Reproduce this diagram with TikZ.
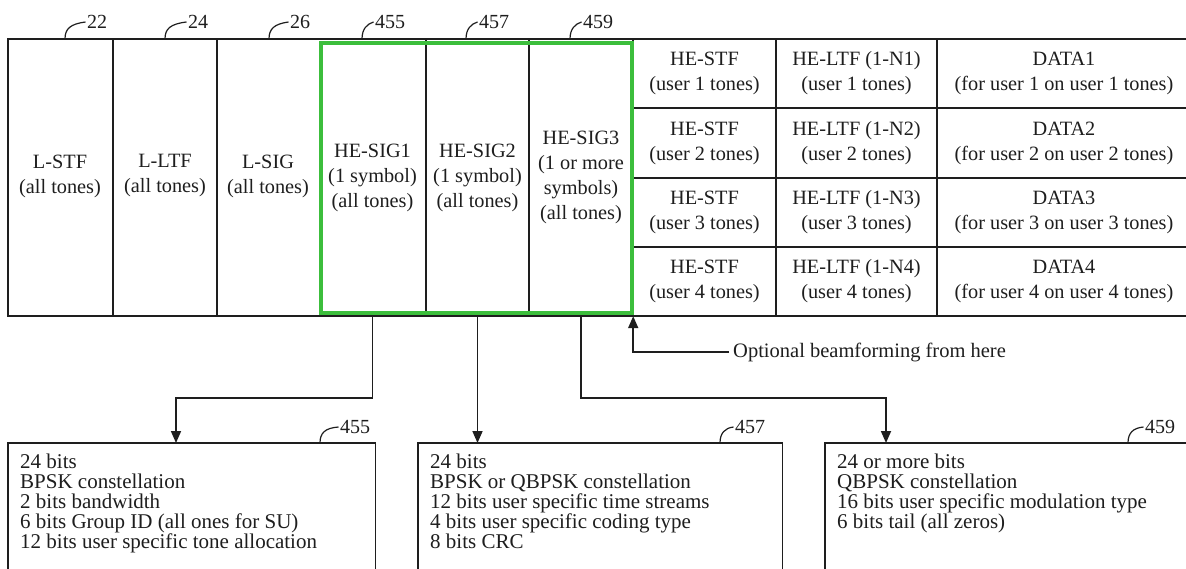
\documentclass[tikz,border=0pt]{standalone}
\usepackage{fontspec}
\setmainfont{Liberation Serif}
\usetikzlibrary{arrows.meta,calc}
\definecolor{ink}{HTML}{1E1E1E}
\definecolor{sigGreen}{HTML}{3CBE3C}
\begin{document}
\begin{tikzpicture}[x=1pt,y=-1pt,
  frameline/.style={draw=ink,line width=1.8pt},
  hookline/.style={draw=ink,line width=1.2pt},
  arr/.style={draw=ink,line width=1.7pt,-{Triangle[length=12pt,width=10pt]}},
  celltext/.style={text=ink,align=center,inner sep=0pt,font=\fontsize{20.3}{25}\selectfont},
  sigcell/.style={celltext,minimum width=#1,minimum height=277pt},
  boxarea/.style={inner sep=0pt,minimum height=126pt,anchor=north west},
  boxtext/.style={text=ink,align=left,inner sep=0pt,anchor=north west,font=\fontsize{21}{20}\selectfont},
  reflab/.style={text=ink,inner sep=1.5pt,anchor=west,font=\fontsize{20}{20}\selectfont},
  beamtext/.style={text=ink,inner sep=4pt,anchor=west,font=\fontsize{20.5}{24}\selectfont}]
\useasboundingbox (0,0) rectangle (1186,569);
\fill[white] (0,0) rectangle (1186,569);

% frame
\draw[frameline] (1186,39) -- (8,39) -- (8,316) -- (1186,316);
\foreach \x in {113,217,426,529,633,776,937}
  \draw[frameline] (\x,39) -- (\x,316);
\foreach \y in {108,178,247}
  \draw[frameline] (633,\y) -- (1186,\y);

% legacy cells
\node[celltext] (lstf) at (60,176) {L-STF\\(all tones)};
\node[celltext] (lltf) at (165,176) {L-LTF\\(all tones)};
\node[celltext] (lsig) at (268,176) {L-SIG\\(all tones)};

% HE-SIG cells
\node[sigcell=107pt] (sig1) at (372.5,177.5) {HE-SIG1\\(1 symbol)\\(all tones)};
\node[sigcell=103pt] (sig2) at (477.5,177.5) {HE-SIG2\\(1 symbol)\\(all tones)};
\node[sigcell=104pt] (sig3) at (581,177.5) {HE-SIG3\\(1 or more\\symbols)\\(all tones)};
\draw[sigGreen,line width=4pt] (321,43) rectangle (632,313);

% per-user cells
\foreach \i/\yc in {1/73,2/143,3/212.5,4/281.5}{
  \node[celltext] (stf\i) at (704.5,\yc) {HE-STF\\(user \i\ tones)};
  \node[celltext] (ltf\i) at (856.5,\yc) {HE-LTF (1-N\i)\\(user \i\ tones)};
  \node[celltext] (data\i) at (1064,\yc) {DATA\i\\(for user \i\ on user \i\ tones)};
}

% top reference labels
\foreach \n/\hx/\tx in {22/65/87,24/165/188,26/269/290,455/362/375,457/466/479,459/570/583}{
  \node[reflab] (top\n) at (\tx-1.5,22) {\n};
  \draw[hookline] (\hx,39) .. controls (\hx,29) and (\hx+5,24) .. (top\n.west);
}

% bottom boxes
\node[boxarea,minimum width=367pt] (b1) at (8,443) {};
\node[boxarea,minimum width=364pt] (b2) at (418,443) {};
\node[boxarea,minimum width=361pt] (b3) at (825,443) {};
\draw[frameline] (b1.south west) -- (b1.north west) -- (b1.north east) -- (b1.south east);
\draw[frameline] (b2.south west) -- (b2.north west) -- (b2.north east) -- (b2.south east);
\draw[frameline] (b3.south west) -- (b3.north west) -- (b3.north east);

\node[boxtext] (b1t) at (20,454) {24 bits\\BPSK constellation\\2 bits bandwidth\\6 bits Group ID (all ones for SU)\\12 bits user specific tone allocation};
\node[boxtext] (b2t) at (430,454) {24 bits\\BPSK or QBPSK constellation\\12 bits user specific time streams\\4 bits user specific coding type\\8 bits CRC};
\node[boxtext] (b3t) at (837,454) {24 or more bits\\QBPSK constellation\\16 bits user specific modulation type\\6 bits tail (all zeros)};

% bottom reference labels
\foreach \n/\hx/\tx in {455/320/340,457/720/735,459/1128/1145}{
  \node[reflab] (bot\n) at (\tx-1.5,427) {\n};
  \draw[hookline] (\hx,443) .. controls (\hx,433) and (\hx+5,428) .. (bot\n.west);
}

% connectors
\coordinate (t1) at (176,443);
\coordinate (t3) at (886,443);
\draw[arr] (sig1.south) -- ++(0,82) -| (t1);
\draw[arr] (sig2.south) -- (sig2.south |- b2.north);
\draw[arr] (sig3.south) -- ++(0,82) -| (t3);

% beamforming note
\node[beamtext] (bf) at (729,352) {Optional beamforming from here};
\draw[arr] (bf.west) -| (sig3.south east);
\end{tikzpicture}
\end{document}
